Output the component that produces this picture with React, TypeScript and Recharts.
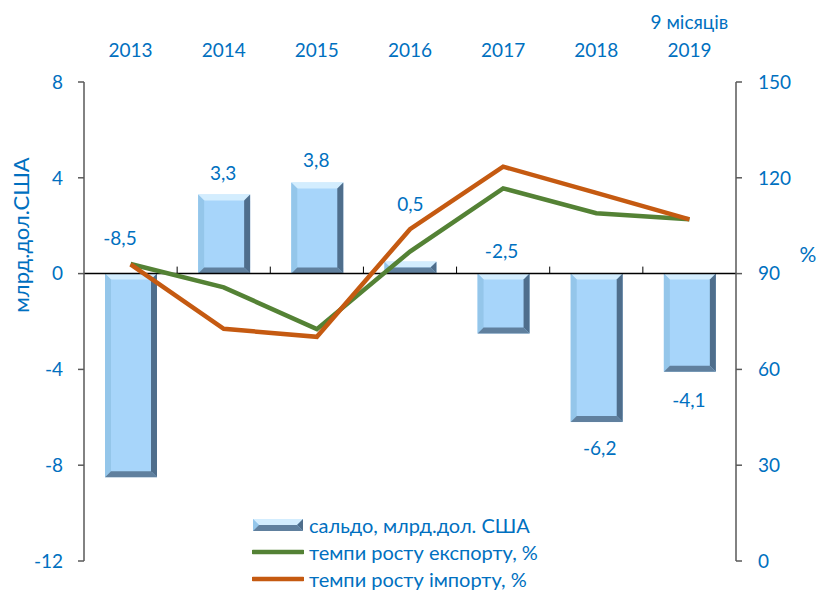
import React from 'react';
import {
  ComposedChart,
  Bar,
  Line,
  XAxis,
  YAxis,
  Legend,
  LabelList,
  Label,
  ReferenceLine,
} from 'recharts';

const years = ['2013', '2014', '2015', '2016', '2017', '2018', '2019'];
const yearNotes = ['', '', '', '', '', '', '9 місяців'];
const balance = [-8.5, 3.3, 3.8, 0.5, -2.5, -6.2, -4.1];
const exportGrowth = [93, 85.7, 72.6, 96.9, 116.7, 108.9, 107];
const importGrowth = [92.9, 72.7, 70.2, 103.9, 123.5, 115.3, 107];

const leftTicks = [-12, -8, -4, 0, 4, 8];
const rightTicks = [0, 30, 60, 90, 120, 150];

const seriesNames = {
  balance: 'сальдо, млрд.дол. США',
  exp: 'темпи росту експорту, %',
  imp: 'темпи росту імпорту, %',
};

// label offsets: [dx, dy] from bar top (or bottom when dy > 0)
const labelOffsets: [number, number][] = [
  [-11, -36], [-1, -22], [-1, -23], [0, -58], [-2, -23], [3, 25], [-1, 28],
];

const data = years.map((y, i) => ({
  year: y,
  note: yearNotes[i],
  balance: balance[i],
  exp: exportGrowth[i],
  imp: importGrowth[i],
}));

const BLUE = '#0070c0';
const FONT = 'Lato, "Open Sans", sans-serif';
const GREEN = '#548235';
const ORANGE = '#c55a11';
const AXIS = '#595959';

const fmt = (v: number) => String(v).replace('.', ',');

const BevelBar = (props: any) => {
  const { x, y, width, height } = props;
  const top = height < 0 ? y + height : y;
  const h = Math.abs(height);
  const w = width;
  if (!h || !w) return null;
  const b = Math.min(6, h / 2, w / 2);
  return (
    <g>
      <rect x={x} y={top} width={w} height={h} fill="#a7d5fa" />
      <polygon
        points={`${x},${top} ${x + w},${top} ${x + w - b},${top + b} ${x + b},${top + b}`}
        fill="#d3edfe"
      />
      <polygon
        points={`${x},${top} ${x + b},${top + b} ${x + b},${top + h - b} ${x},${top + h}`}
        fill="#94c6ea"
      />
      <polygon
        points={`${x + w},${top} ${x + w},${top + h} ${x + w - b},${top + h - b} ${x + w - b},${top + b}`}
        fill="#4f6e8c"
      />
      <polygon
        points={`${x},${top + h} ${x + w},${top + h} ${x + w - b},${top + h - b} ${x + b},${top + h - b}`}
        fill="#60809e"
      />
    </g>
  );
};

const BarValueLabel = (props: any) => {
  const { x, y, width, height, index, value } = props;
  const top = height < 0 ? y + height : y;
  const bottom = top + Math.abs(height);
  const [dx, dy] = labelOffsets[index] || [0, -22];
  const cy = dy < 0 ? top + dy : bottom + dy;
  return (
    <text
      x={x + width / 2 + dx}
      y={cy}
      textAnchor="middle"
      dominantBaseline="central"
      fill={BLUE}
      fontSize={19}
      fontFamily={FONT}
    >
      {fmt(value)}
    </text>
  );
};

const YearTick = (props: any) => {
  const { x, y, payload, index } = props;
  const note = yearNotes[index];
  return (
    <g>
      {note ? (
        <text x={x} y={y - 45} textAnchor="middle" fill={BLUE} fontSize={19} fontFamily={FONT}>
          {note}
        </text>
      ) : null}
      <text x={x} y={y - 17} textAnchor="middle" fill={BLUE} fontSize={19} fontFamily={FONT}>
        {payload.value}
      </text>
    </g>
  );
};

const ZeroLine = (props: any) => {
  const { x1, y1, x2, y2 } = props;
  const step = (x2 - x1) / years.length;
  return (
    <g>
      <line x1={x1} y1={y1} x2={x2} y2={y2} stroke="#000" strokeWidth={1.5} />
      {years.slice(1).map((_, i) => (
        <line
          key={i}
          x1={x1 + step * (i + 1)}
          x2={x1 + step * (i + 1)}
          y1={y1}
          y2={y1 - 7}
          stroke="#000"
          strokeWidth={1}
        />
      ))}
    </g>
  );
};

const LegendContent = () => {
  const row: React.CSSProperties = {
    display: 'flex',
    alignItems: 'center',
    height: 27,
    whiteSpace: 'nowrap',
  };
  const txt: React.CSSProperties = {
    color: BLUE,
    fontFamily: FONT,
    fontSize: 20,
    marginLeft: 5,
  };
  return (
    <div>
      <div style={row}>
        <svg width={52} height={14}>
          <BevelBar x={1} y={1} width={50} height={12} />
        </svg>
        <span style={txt}>{seriesNames.balance}</span>
      </div>
      <div style={row}>
        <svg width={52} height={14}>
          <line x1={1} y1={7} x2={51} y2={7} stroke={GREEN} strokeWidth={4.5} strokeLinecap="round" />
        </svg>
        <span style={txt}>{seriesNames.exp}</span>
      </div>
      <div style={row}>
        <svg width={52} height={14}>
          <line x1={1} y1={7} x2={51} y2={7} stroke={ORANGE} strokeWidth={4.5} strokeLinecap="round" />
        </svg>
        <span style={txt}>{seriesNames.imp}</span>
      </div>
    </div>
  );
};

const App: React.FC = () => {
  return (
    <div style={{ position: 'absolute', left: 0, top: 0, width: 818, height: 591, background: '#fff' }}>
      <ComposedChart
        width={818}
        height={591}
        data={data}
        margin={{ top: 0, right: 0, bottom: 30, left: 0 }}
      >
        <XAxis
          dataKey="year"
          orientation="top"
          height={82}
          axisLine={false}
          tickLine={false}
          tick={<YearTick />}
          interval={0}
        />
        <YAxis
          yAxisId="left"
          width={84}
          domain={[-12, 8]}
          ticks={leftTicks}
          interval={0}
          tickFormatter={fmt}
          axisLine={{ stroke: AXIS, strokeWidth: 1.5 }}
          tickLine={{ stroke: AXIS, strokeWidth: 1.5 }}
          tickSize={6}
          tickMargin={15}
          tick={{ fill: BLUE, fontSize: 19, fontFamily: FONT }}
        >
          <Label
            content={(p: any) => {
              const vb = p.viewBox;
              const cx = vb.x + 20;
              const cy = vb.y + 153;
              return (
                <text
                  x={cx}
                  y={cy}
                  transform={`rotate(-90 ${cx} ${cy})`}
                  textAnchor="middle"
                  dominantBaseline="central"
                  fill={BLUE}
                  fontSize={22}
                  fontFamily={FONT}
                >
                  млрд.дол.США
                </text>
              );
            }}
          />
        </YAxis>
        <YAxis
          yAxisId="right"
          orientation="right"
          width={82}
          domain={[0, 150]}
          ticks={rightTicks}
          interval={0}
          axisLine={{ stroke: AXIS, strokeWidth: 1.5 }}
          tickLine={{ stroke: AXIS, strokeWidth: 1.5 }}
          tickSize={6}
          tickMargin={16}
          tick={{ fill: BLUE, fontSize: 19, fontFamily: FONT, textAnchor: 'start' }}
        >
          <Label
            content={(p: any) => {
              const vb = p.viewBox;
              return (
                <text
                  x={vb.x + 72}
                  y={vb.y + 171}
                  textAnchor="middle"
                  dominantBaseline="central"
                  fill={BLUE}
                  fontSize={21}
                  fontFamily={FONT}
                >
                  %
                </text>
              );
            }}
          />
        </YAxis>
        <Legend
          layout="vertical"
          align="center"
          verticalAlign="middle"
          content={<LegendContent />}
          wrapperStyle={{ position: 'absolute', left: 252, top: 511, width: 330 }}
        />
        <Bar
          yAxisId="left"
          dataKey="balance"
          name={seriesNames.balance}
          barSize={52}
          shape={<BevelBar />}
          isAnimationActive={false}
        >
          <LabelList dataKey="balance" content={<BarValueLabel />} />
        </Bar>
        <ReferenceLine yAxisId="left" y={0} shape={<ZeroLine />} />
        <Line
          yAxisId="right"
          dataKey="exp"
          name={seriesNames.exp}
          stroke={GREEN}
          strokeWidth={4.5}
          dot={false}
          isAnimationActive={false}
        />
        <Line
          yAxisId="right"
          dataKey="imp"
          name={seriesNames.imp}
          stroke={ORANGE}
          strokeWidth={4.5}
          dot={false}
          isAnimationActive={false}
        />
      </ComposedChart>
    </div>
  );
};

export default App;
